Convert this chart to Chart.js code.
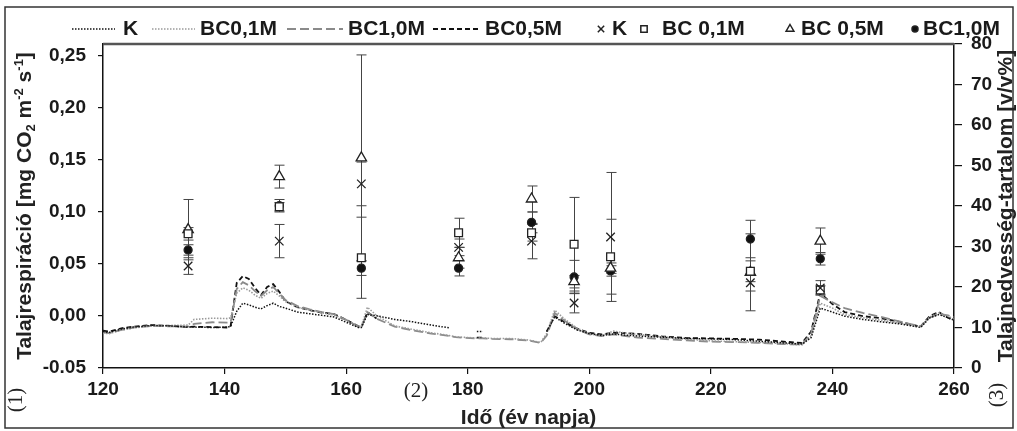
<!DOCTYPE html>
<html>
<head>
<meta charset="utf-8">
<script src="https://cdn.jsdelivr.net/npm/chart.js@4.4.1/dist/chart.umd.min.js"></script>
<style>
  html, body { margin: 0; padding: 0; background: #fff; }
  #wrap { width: 1017px; height: 431px; }
</style>
</head>
<body>
<div id="wrap"><canvas id="chart" width="1017" height="431"></canvas></div>
<script>
// Soil moisture (right axis, v/v%) by day of year
const moistDays = [120, 121, 123, 125, 128, 131, 134, 135, 138, 140.5,
  141, 142, 143, 144, 145, 146, 147, 148, 149, 150,
  152, 154, 156, 158, 160, 162, 162.5, 163.5, 165, 168,
  171, 174, 177, 178, 181.5, 182.5, 184, 187, 190, 192,
  193, 194.3, 196, 198, 200, 202, 204, 206, 208, 212,
  216, 220, 224, 228, 232, 235, 236.5, 238, 240, 242,
  245, 248, 251, 254.5, 256, 257.5, 259, 260];
const moistK = [9.0, 8.8, 9.6, 10.1, 10.5, 10.4, 10.1, 10.1, 10.0, 10.1,
  10.3, 14.0, 16.0, 15.6, 15.0, 14.6, 15.4, 16.0, 15.2, 14.8,
  13.8, 13.4, 13.0, 12.6, 11.3, 10.0, 10.0, 13.2, 12.9, 12.0,
  11.4, 10.6, 9.9, null, 9.0, 9.0, null, null, null, null,
  9.0, 12.6, 11.0, 9.4, 8.5, 8.0, 8.4, 8.1, 7.9, 7.6,
  7.3, 7.2, 7.0, 6.6, 6.2, 5.9, 7.5, 14.8, 13.8, 12.8,
  12.0, 11.4, 10.9, 10.0, 12.4, 13.2, 12.4, 11.8];
const moistBC01 = [8.6, 8.5, 9.3, 9.9, 10.4, 10.5, 10.6, 12.0, 12.3, 12.2,
  12.4, 18.5, 19.8, 19.2, 18.0, 17.2, 18.4, 19.0, 17.8, 16.4,
  15.0, 14.3, 13.6, 13.1, 11.8, 10.4, 10.2, 15.0, 13.0, 10.4,
  9.5, 8.7, 8.0, 7.7, 7.4, 7.4, 7.3, 7.3, 6.9, 6.3,
  8.5, 14.3, 12.0, 9.8, 8.4, 8.0, 9.1, 8.6, 8.3, 7.7,
  7.1, 6.7, 6.5, 6.3, 6.0, 5.7, 8.0, 16.0, 14.8, 13.2,
  12.4, 11.8, 11.1, 10.2, 12.6, 13.6, 12.8, 12.0];
const moistBC10 = [8.8, 8.6, 9.4, 10.0, 10.4, 10.3, 10.2, 10.9, 11.3, 11.2,
  11.3, 19.5, 21.2, 20.4, 19.0, 17.8, 19.2, 20.0, 18.4, 16.8,
  15.3, 14.5, 13.8, 13.3, 11.9, 10.2, 10.0, 13.8, 12.2, 10.2,
  9.3, 8.5, 7.9, 7.6, 7.3, 7.3, 7.2, 7.1, 6.8, 6.2,
  8.0, 13.6, 11.6, 9.6, 8.3, 7.9, 8.3, 7.9, 7.5, 7.2,
  6.8, 6.5, 6.4, 6.2, 5.9, 5.8, 8.5, 17.8, 16.2, 14.8,
  13.6, 12.6, 11.5, 10.3, 12.4, 13.4, 13.0, 12.6];
const moistBC05 = [9.2, 9.0, 9.8, 10.2, 10.6, 10.4, 10.1, 10.2, 10.1, 10.0,
  10.4, 21.0, 22.7, 22.0, 19.8, 18.0, 20.0, 20.7, 18.8, 16.5,
  15.0, 14.3, 13.7, 13.3, 11.9, 10.3, 10.1, 13.8, 12.2, null,
  null, null, null, null, 7.5, 7.5, null, null, null, null,
  9.0, 12.8, 11.3, 9.7, 8.7, 8.3, 8.7, 8.6, 8.4, 7.8,
  7.4, 7.3, 7.2, 7.0, 6.5, 6.2, 9.0, 18.5, 15.8, 13.8,
  12.8, 12.3, 11.4, 10.2, 12.8, 13.8, 12.4, 11.9];

// Soil respiration (left axis, mg CO2 m-2 s-1) with error bars
const respDays = [134, 149, 162.5, 178.5, 190.5, 197.5, 203.5, 226.5, 238];
const respK    = [0.048, 0.072, 0.127, 0.066, 0.072, 0.0125, 0.076, 0.032, 0.027];
const respBC01 = [0.079, 0.105, 0.056, 0.080, 0.080, 0.069, 0.057, 0.043, 0.025];
const respBC05 = [0.083, 0.134, 0.152, 0.056, 0.1125, 0.033, 0.046, 0.042, 0.072];
const respBC10 = [0.0635, 0.106, 0.046, 0.046, 0.090, 0.0375, 0.0433, 0.074, 0.055];
const errK    = [0.008, 0.016, 0.021, 0.008, 0.017, 0.0095, 0.062, 0.008, 0.007];
const errBC01 = [0.006, 0.004, 0.039, 0.014, 0.008, 0.045, 0.036, 0.010, 0.004];
const errBC05 = [0.029, 0.011, 0.099, 0.010, 0.0125, 0.006, 0.005, 0.037, 0.0126];
const errBC10 = [0.005, 0.006, 0.007, 0.0075, 0.010, 0.016, 0.005, 0.018, 0.006];

const xTicks = [120, 140, 160, 180, 200, 220, 240, 260];
const leftTicks = [-0.05, 0, 0.05, 0.10, 0.15, 0.20, 0.25];
const rightTicks = [0, 10, 20, 30, 40, 50, 60, 70, 80];

const FONT = "'Liberation Sans', Arial, sans-serif";
const SERIF = "'Liberation Serif', 'DejaVu Serif', serif";

function pts(xs, ys) {
  return xs.map((x, i) => ({ x: x, y: ys[i] }));
}

function markerSet(label, ys, errs, style, radius, fill) {
  return {
    label: label, data: pts(respDays, ys), errors: errs, yAxisID: 'y', order: 0,
    showLine: false, pointStyle: style, pointRadius: radius, pointHoverRadius: radius,
    pointBackgroundColor: fill, pointBorderColor: '#222', pointBorderWidth: 1.3
  };
}

function lineSet(label, ys, color, dash, width) {
  return {
    label: label, data: pts(moistDays, ys), yAxisID: 'y1', order: 1,
    showLine: true, spanGaps: false, pointRadius: 0, borderColor: color,
    borderDash: dash, borderWidth: width, tension: 0
  };
}

const datasets = [
  markerSet('K', respK, errK, 'crossRot', 6, '#222'),
  markerSet('BC 0,1M', respBC01, errBC01, 'rect', 5.5, '#fff'),
  markerSet('BC 0,5M', respBC05, errBC05, 'triangle', 6, '#fff'),
  markerSet('BC1,0M', respBC10, errBC10, 'circle', 4, '#111'),
  lineSet('K', moistK, '#111', [1.5, 1.5], 1.5),
  lineSet('BC0,1M', moistBC01, '#9a9a9a', [1.5, 1.5], 1.6),
  lineSet('BC1,0M', moistBC10, '#8a8a8a', [9, 4], 1.8),
  lineSet('BC0,5M', moistBC05, '#111', [5, 3], 1.8)
];

// error bars under the markers
const errorBars = {
  id: 'errorBars',
  beforeDatasetsDraw(chart) {
    const ctx = chart.ctx;
    const xs = chart.scales.x, ys = chart.scales.y;
    ctx.save();
    ctx.strokeStyle = '#444';
    ctx.lineWidth = 1;
    chart.data.datasets.forEach(ds => {
      if (!ds.errors) return;
      ds.data.forEach((p, i) => {
        const px = Math.round(xs.getPixelForValue(p.x)) + 0.5;
        const top = ys.getPixelForValue(p.y + ds.errors[i]);
        const bot = ys.getPixelForValue(p.y - ds.errors[i]);
        ctx.beginPath();
        ctx.moveTo(px, top); ctx.lineTo(px, bot);
        ctx.moveTo(px - 5, top); ctx.lineTo(px + 5, top);
        ctx.moveTo(px - 5, bot); ctx.lineTo(px + 5, bot);
        ctx.stroke();
      });
    });
    ctx.restore();
  }
};

function drawRich(ctx, parts, cx, cy, rot) {
  ctx.save();
  ctx.translate(cx, cy);
  ctx.rotate(rot);
  ctx.textBaseline = 'middle';
  ctx.textAlign = 'left';
  let total = 0;
  parts.forEach(p => {
    ctx.font = p[1] ? 'bold 13px ' + FONT : 'bold 21px ' + FONT;
    total += ctx.measureText(p[0]).width;
  });
  let x = -total / 2;
  parts.forEach(p => {
    ctx.font = p[1] ? 'bold 13px ' + FONT : 'bold 21px ' + FONT;
    const dy = p[1] === 1 ? -6 : (p[1] === -1 ? 6 : 0);
    ctx.fillText(p[0], x, dy);
    x += ctx.measureText(p[0]).width;
  });
  ctx.restore();
}

// titles, frame, legend
const decorations = {
  id: 'decorations',
  afterDraw(chart) {
    const ctx = chart.ctx;
    const a = chart.chartArea;
    ctx.save();
    ctx.fillStyle = '#222';
    // plot top edge
    ctx.strokeStyle = '#555';
    ctx.lineWidth = 2.5;
    ctx.beginPath(); ctx.moveTo(a.left, a.top); ctx.lineTo(a.right, a.top); ctx.stroke();
    // outer frame
    ctx.strokeStyle = '#333';
    ctx.lineWidth = 1.5;
    ctx.strokeRect(5, 7, 1008, 421);

    drawRich(ctx, [['Talajrespiráció [mg CO', 0], ['2', -1], [' m', 0], ['-2', 1], [' s', 0], ['-1', 1], [']', 0]],
      25, (a.top + a.bottom) / 2, -Math.PI / 2);
    drawRich(ctx, [['Talajnedvesség-tartalom [v/v%]', 0]], 1006, (a.top + a.bottom) / 2, -Math.PI / 2);
    drawRich(ctx, [['Idő (év napja)', 0]], (a.left + a.right) / 2, 418, 0);

    ctx.font = '21px ' + SERIF;
    ctx.textAlign = 'center';
    ctx.textBaseline = 'middle';
    ctx.fillText('(2)', 416, 391);
    [[16, 400], [997, 395]].forEach((p, k) => {
      ctx.save();
      ctx.translate(p[0], p[1]);
      ctx.rotate(-Math.PI / 2);
      ctx.fillText(k === 0 ? '(1)' : '(3)', 0, 0);
      ctx.restore();
    });

    // legend
    const ly = 29;
    const items = [
      { ds: 4, s: 72, w: 43, t: 123 },
      { ds: 5, s: 152, w: 43, t: 200 },
      { ds: 6, s: 287, w: 56, t: 348 },
      { ds: 7, s: 433, w: 47, t: 485 },
      { ds: 0, s: 601, t: 612 },
      { ds: 1, s: 644, t: 662 },
      { ds: 2, s: 790, t: 801 },
      { ds: 3, s: 915, t: 923 }
    ];
    ctx.font = 'bold 21px ' + FONT;
    ctx.textAlign = 'left';
    items.forEach(it => {
      const ds = chart.data.datasets[it.ds];
      ctx.save();
      if (ds.showLine) {
        ctx.strokeStyle = ds.borderColor;
        ctx.lineWidth = ds.borderWidth;
        ctx.setLineDash(ds.borderDash);
        ctx.beginPath(); ctx.moveTo(it.s, ly); ctx.lineTo(it.s + it.w, ly); ctx.stroke();
      } else {
        ctx.strokeStyle = '#222';
        ctx.fillStyle = ds.pointBackgroundColor;
        Chart.helpers.drawPoint(ctx, { pointStyle: ds.pointStyle, radius: ds.pointStyle === 'circle' ? 3 : 4.5, borderWidth: 1 }, it.s, ly);
      }
      ctx.restore();
      ctx.fillStyle = '#1a1a1a';
      ctx.fillText(ds.label, it.t, ly);
    });
    ctx.restore();
  }
};

new Chart(document.getElementById('chart'), {
  type: 'scatter',
  data: { datasets: datasets },
  plugins: [errorBars, decorations],
  options: {
    responsive: false,
    animation: false,
    layout: { padding: { top: 44, left: 0, right: 0, bottom: 0 } },
    plugins: { legend: { display: false }, tooltip: { enabled: false } },
    scales: {
      x: {
        type: 'linear', min: 120, max: 260,
        afterFit: s => { s.height = 63; },
        afterBuildTicks: s => { s.ticks = xTicks.map(v => ({ value: v })); },
        grid: { drawOnChartArea: false, tickLength: 6, color: '#111', lineWidth: 1.2 },
        border: { color: '#111', width: 1.5 },
        ticks: { color: '#1a1a1a', font: { family: FONT, size: 19, weight: 'bold' }, padding: 4, maxRotation: 0 }
      },
      y: {
        position: 'left', min: -0.05, max: 0.2615,
        afterFit: s => { s.width = 103; },
        afterBuildTicks: s => { s.ticks = leftTicks.map(v => ({ value: v })); },
        grid: { drawOnChartArea: false, tickLength: 5, color: '#111', lineWidth: 1.2 },
        border: { color: '#111', width: 1.5 },
        ticks: {
          color: '#1a1a1a', font: { family: FONT, size: 19, weight: 'bold' }, padding: 12,
          callback: v => v < 0 ? v.toFixed(2) : v.toFixed(2).replace('.', ',')
        }
      },
      y1: {
        position: 'right', min: 0, max: 80,
        afterFit: s => { s.width = 63; },
        afterBuildTicks: s => { s.ticks = rightTicks.map(v => ({ value: v })); },
        grid: { drawOnChartArea: false, tickLength: 8, color: '#111', lineWidth: 1.2 },
        border: { color: '#111', width: 1.5 },
        ticks: { color: '#1a1a1a', font: { family: FONT, size: 19, weight: 'bold' }, padding: 9 }
      }
    }
  }
});
</script>
</body>
</html>
